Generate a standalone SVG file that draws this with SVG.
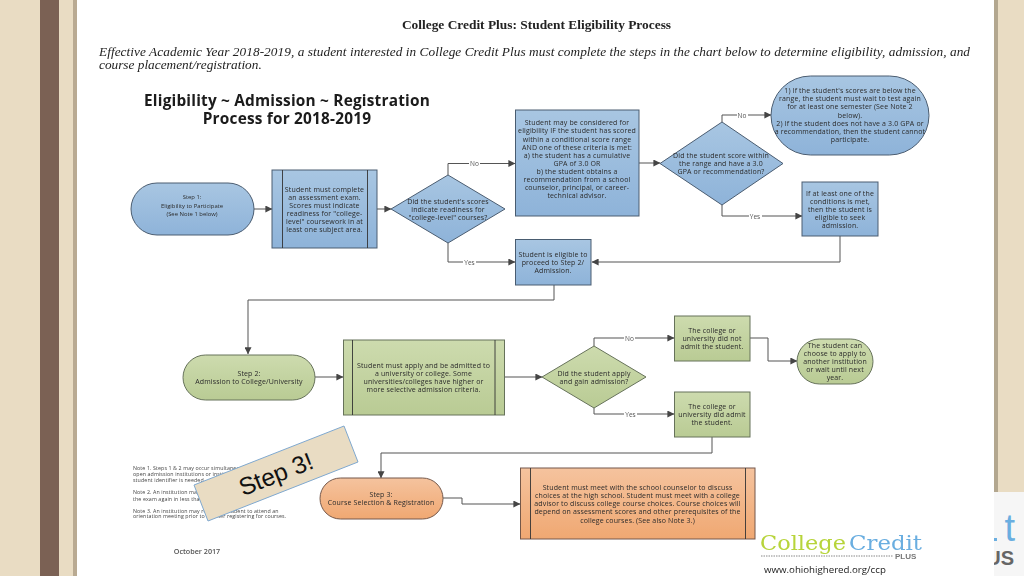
<svg xmlns="http://www.w3.org/2000/svg" width="1024" height="576" viewBox="0 0 1024 576">
<style>
text{font-family:"Open Sans","Noto Sans",sans-serif;fill:#2b2b2b}
.t{font-size:7px;text-anchor:middle;letter-spacing:.14px}
.s{font-size:5.9px;text-anchor:middle}
.l{font-size:6.5px;text-anchor:middle;fill:#555}
.n{font-size:5.3px;fill:#444;letter-spacing:.1px}
.b{fill:url(#gb);stroke:#4a5c70;stroke-width:1}
.g{fill:url(#gg);stroke:#66725a;stroke-width:1}
.o{fill:url(#go);stroke:#75584a;stroke-width:1}
.in{fill:none;stroke:#333;stroke-width:.9}
.c{fill:none;stroke:#555;stroke-width:1;marker-end:url(#a)}
.lb{fill:#fff}
.h{font-size:15.4px;font-weight:700;text-anchor:middle;fill:#1a1a1a;letter-spacing:.2px}
.sf{font-family:"Liberation Serif",serif;fill:#222}
</style>
<defs>
<linearGradient id="gb" x1="0" y1="0" x2="0" y2="1"><stop offset="0" stop-color="#a8c6e2"/><stop offset="1" stop-color="#8eb3d9"/></linearGradient>
<linearGradient id="gg" x1="0" y1="0" x2="0" y2="1"><stop offset="0" stop-color="#cddbae"/><stop offset="1" stop-color="#b9cb94"/></linearGradient>
<linearGradient id="go" x1="0" y1="0" x2="0" y2="1"><stop offset="0" stop-color="#f5c39e"/><stop offset="1" stop-color="#f0a872"/></linearGradient>
<marker id="a" viewBox="0 0 10 10" refX="9.500" refY="5" markerWidth="8" markerHeight="7" markerUnits="userSpaceOnUse" orient="auto"><path d="M0 0L10 5L0 10Z" fill="#444"/></marker>
<filter id="bl" x="0" y="0" width="100%" height="100%"><feGaussianBlur stdDeviation="0.42"/></filter>
</defs>

<rect id="background" width="1024" height="576" fill="#e9dcc3"/>
<rect id="band" x="40" y="0" width="19" height="576" fill="#7b6154"/>
<rect id="slide-shadow-left" x="73" y="0" width="4" height="576" fill="#b9aa92"/>
<rect id="slide-shadow-right" x="994" y="0" width="4" height="492" fill="#b3a78f"/>

<g id="corner-logo">
<rect x="994" y="492" width="30" height="84" fill="#f6f6f6"/>
<rect x="994" y="538" width="3" height="3" fill="#6aaee0"/>
<text x="1015" y="541" text-anchor="end" style="font-family:'Liberation Sans',sans-serif;font-size:38px;fill:#6aaee0">t</text>
<text x="1014" y="565" text-anchor="end" style="font-family:'Liberation Sans',sans-serif;font-size:20px;font-weight:700;fill:#666">US</text>
</g>
<rect id="slide" x="77" y="0" width="917" height="576" fill="#fff"/>

<g id="content" filter="url(#bl)">
<g id="header">
<text x="536.500" y="29" text-anchor="middle" class="sf" style="font-size:13.400px;font-weight:700">College Credit Plus: Student Eligibility Process</text>
<text x="99" y="56" class="sf" style="font-size:13.300px;font-style:italic" textLength="871">Effective Academic Year 2018-2019, a student interested in College Credit Plus must complete the steps in the chart below to determine eligibility, admission, and</text>
<text x="99" y="69" class="sf" style="font-size:13.300px;font-style:italic">course placement/registration.</text>
<text x="287" y="106" class="h">Eligibility ~ Admission ~ Registration</text>
<text x="287" y="124" class="h">Process for 2018-2019</text>
</g>

<g id="connectors">
<path class="c" d="M254 209H272"/>
<path class="c" d="M377 209H391"/>
<path class="c" d="M448 175V163.500H515"/>
<path class="c" d="M448 243V262H515"/>
<path class="c" d="M639 163H660"/>
<path class="c" d="M722 122V115H771"/>
<path class="c" d="M722 205V216H802"/>
<path class="c" d="M840 236V262H592"/>
<path class="c" d="M554 285V300H248V354"/>
<path class="c" d="M315 377H343"/>
<path class="c" d="M505 377H542"/>
<path class="c" d="M594 346V338H674"/>
<path class="c" d="M594 408V414H674"/>
<path class="c" d="M750 338H768V361H797"/>
<path class="c" d="M712 437V453H381V478"/>
<path class="c" d="M443 498H462V504H520"/>
<g id="edge-labels">
<rect class="lb" x="469" y="160" width="11" height="7"/><text class="l" x="474.500" y="166">No</text>
<rect class="lb" x="463" y="258" width="13" height="7"/><text class="l" x="469.500" y="264.500">Yes</text>
<rect class="lb" x="737" y="111" width="11" height="7"/><text class="l" x="742" y="117.500">No</text>
<rect class="lb" x="749" y="212" width="13" height="7"/><text class="l" x="755" y="218.500">Yes</text>
<rect class="lb" x="624" y="334" width="11" height="7"/><text class="l" x="629.500" y="340.500">No</text>
<rect class="lb" x="624" y="410" width="13" height="7"/><text class="l" x="630.500" y="416.500">Yes</text>
</g>
</g>

<g id="step1">
<rect class="b" x="131" y="183" width="123" height="52" rx="26"/>
<text class="s" x="192" y="199">Step 1:</text>
<text class="s" x="192" y="207.500">Eligibility to Participate</text>
<text class="s" x="192" y="215.500">(See Note 1 below)</text>
</g>
<g id="assessment">
<rect class="b" x="272" y="170" width="105" height="78"/>
<path class="in" d="M282.500 170V248M367.500 170V248"/>
<text class="t" x="324.500" y="191.500">Student must complete</text>
<text class="t" x="324.500" y="199.500">an assessment exam.</text>
<text class="t" x="324.500" y="207.500">Scores must indicate</text>
<text class="t" x="324.500" y="215.500">readiness for "college-</text>
<text class="t" x="324.500" y="223.500">level" coursework in at</text>
<text class="t" x="324.500" y="231.500">least one subject area.</text>
</g>
<g id="decision1">
<polygon class="b" points="448,175 505,209 448,243 391,209"/>
<text class="t" x="448" y="203.500">Did the student's scores</text>
<text class="t" x="448" y="211.500">indicate readiness for</text>
<text class="t" x="448" y="219.500">"college-level" courses?</text>
</g>
<g id="conditional">
<rect class="b" x="515.500" y="110" width="123.500" height="106"/>
<text class="t" x="577" y="125">Student may be considered for</text>
<text class="t" x="577" y="133">eligibility IF the student has scored</text>
<text class="t" x="577" y="141.500">within a conditional score range</text>
<text class="t" x="577" y="149.500">AND one of these criteria is met:</text>
<text class="t" x="577" y="158">a) the student has a cumulative</text>
<text class="t" x="577" y="166">GPA of 3.0 OR</text>
<text class="t" x="577" y="174">b) the student obtains a</text>
<text class="t" x="577" y="182">recommendation from a school</text>
<text class="t" x="577" y="190">counselor, principal, or career-</text>
<text class="t" x="577" y="198">technical advisor.</text>
</g>
<g id="decision2">
<polygon class="b" points="722,122 783,163.500 722,205 660,163.500"/>
<text class="t" x="721" y="158">Did the student score within</text>
<text class="t" x="721" y="166">the range and have a 3.0</text>
<text class="t" x="721" y="174">GPA or recommendation?</text>
</g>
<g id="wait">
<rect class="b" x="771" y="76" width="158" height="79" rx="39.500"/>
<text class="t" x="850" y="93">1) If the student's scores are below the</text>
<text class="t" x="850" y="101">range, the student must wait to test again</text>
<text class="t" x="850" y="109">for at least one semester (See Note 2</text>
<text class="t" x="850" y="117.500">below).</text>
<text class="t" x="850" y="125.500">2) If the student does not have a 3.0 GPA or</text>
<text class="t" x="850" y="134">a recommendation, then the student cannot</text>
<text class="t" x="850" y="142">participate.</text>
</g>
<g id="conditions-met">
<rect class="b" x="802" y="182" width="76" height="54"/>
<text class="t" x="840" y="195.500">If at least one of the</text>
<text class="t" x="840" y="203.500">conditions is met,</text>
<text class="t" x="840" y="211.500">then the student is</text>
<text class="t" x="840" y="219.500">eligible to seek</text>
<text class="t" x="840" y="227.500">admission.</text>
</g>
<g id="eligible">
<rect class="b" x="515.500" y="239.500" width="75.500" height="45.500"/>
<text class="t" x="553" y="256.500">Student is eligible to</text>
<text class="t" x="553" y="264.500">proceed to Step 2/</text>
<text class="t" x="553" y="272.500">Admission.</text>
</g>

<g id="step2">
<rect class="g" x="183" y="355" width="132" height="45" rx="22.500"/>
<text class="t" x="249" y="375.500">Step 2:</text>
<text class="t" x="249" y="383.500">Admission to College/University</text>
</g>
<g id="apply">
<rect class="g" x="343.500" y="340" width="161" height="75"/>
<path class="in" d="M352.500 340V415M495 340V415"/>
<text class="t" x="423.500" y="367.500">Student must apply and be admitted to</text>
<text class="t" x="423.500" y="375.500">a university or college. Some</text>
<text class="t" x="423.500" y="383.500">universities/colleges have higher or</text>
<text class="t" x="423.500" y="391.500">more selective admission criteria.</text>
</g>
<g id="decision3">
<polygon class="g" points="594,346 646,377 594,408 542,377"/>
<text class="t" x="594" y="375.500">Did the student apply</text>
<text class="t" x="594" y="383.500">and gain admission?</text>
</g>
<g id="not-admitted">
<rect class="g" x="674.500" y="316" width="75.500" height="45"/>
<text class="t" x="712" y="332.500">The college or</text>
<text class="t" x="712" y="340.500">university did not</text>
<text class="t" x="712" y="348.500">admit the student.</text>
</g>
<g id="admitted">
<rect class="g" x="674.500" y="392" width="75.500" height="45"/>
<text class="t" x="712" y="408.500">The college or</text>
<text class="t" x="712" y="416.500">university did admit</text>
<text class="t" x="712" y="424.500">the student.</text>
</g>
<g id="choose">
<rect class="g" x="797" y="339" width="76" height="45" rx="22.500"/>
<text class="t" x="835" y="347.500">The student can</text>
<text class="t" x="835" y="355.500">choose to apply to</text>
<text class="t" x="835" y="363.500">another institution</text>
<text class="t" x="835" y="371.500">or wait until next</text>
<text class="t" x="835" y="380">year.</text>
</g>

<g id="step3">
<rect class="o" x="320" y="478" width="123" height="41" rx="20.500"/>
<text class="t" x="381" y="496.500">Step 3:</text>
<text class="t" x="381" y="504.500">Course Selection &amp; Registration</text>
</g>
<g id="meet">
<rect class="o" x="520.500" y="468" width="234.500" height="71"/>
<path class="in" d="M530.500 468V539M745.500 468V539"/>
<text class="t" x="637.500" y="489.500">Student must meet with the school counselor to discuss</text>
<text class="t" x="637.500" y="497.500">choices at the high school. Student must meet with a college</text>
<text class="t" x="637.500" y="506">advisor to discuss college course choices. Course choices will</text>
<text class="t" x="637.500" y="514">depend on assessment scores and other prerequisites of the</text>
<text class="t" x="637.500" y="522.500">college courses. (See also Note 3.)</text>
</g>

<g id="notes">
<text class="n" x="133" y="470">Note 1. Steps 1 &amp; 2 may occur simultaneously</text>
<text class="n" x="133" y="476">open admission institutions or institutions</text>
<text class="n" x="133" y="482">student identifier is needed</text>
<text class="n" x="133" y="494">Note 2. An institution may</text>
<text class="n" x="133" y="500.500">the exam again in less than</text>
<text class="n" x="133" y="512.500">Note 3. An institution may require a student to attend an</text>
<text class="n" x="133" y="518">orientation meeting prior to or after registering for courses.</text>
<text x="197" y="553.500" text-anchor="middle" style="font-size:7.200px;fill:#555;font-weight:600">October 2017</text>
</g>
</g>

<g id="sticker">
<polygon points="344,426 358,462 208,521 194,485" fill="#e9dcc3" stroke="#7fa8cf" stroke-width="1"/>
<text transform="translate(279 482) rotate(-21.500)" text-anchor="middle" style="font-family:'Liberation Sans',sans-serif;font-size:24.500px;fill:#111">Step 3!</text>
</g>

<g id="logo" filter="url(#bl)">
<text x="760" y="550" style="font-family:'DejaVu Serif',serif;font-size:20px;fill:#b7d43a" textLength="86" lengthAdjust="spacingAndGlyphs">College</text>
<text x="849" y="550" style="font-family:'DejaVu Serif',serif;font-size:20px;fill:#6aaee0" textLength="73" lengthAdjust="spacingAndGlyphs">Credit</text>
<line x1="761" y1="556" x2="893" y2="556" stroke="#888" stroke-width="1" stroke-dasharray="1.500 1"/>
<text x="895" y="558.500" style="font-family:'Liberation Sans',sans-serif;font-size:8px;font-weight:700;fill:#777">PLUS</text>
<text x="764" y="572.500" style="font-size:9.700px;fill:#222">www.ohiohighered.org/ccp</text>
</g>
</svg>
